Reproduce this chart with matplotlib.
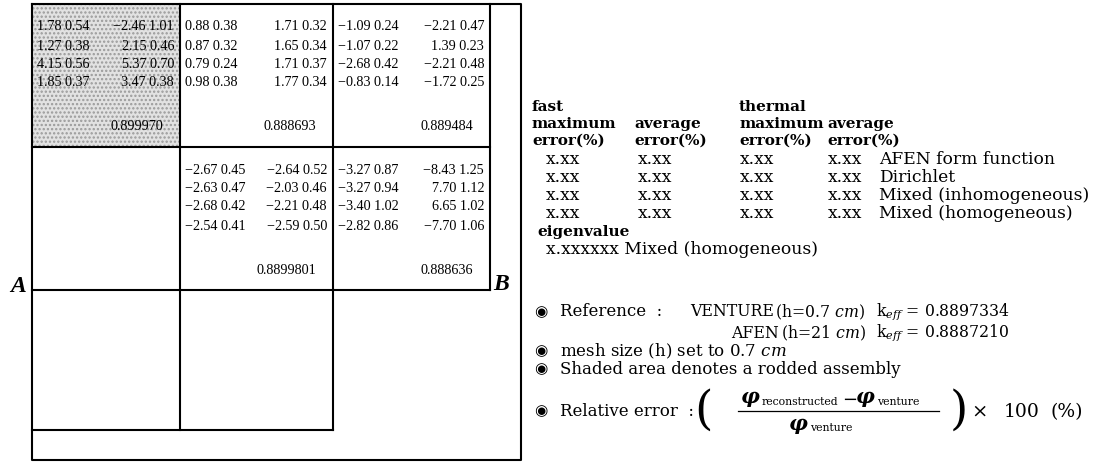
import matplotlib
matplotlib.use("Agg")
import matplotlib.pyplot as plt
from matplotlib.patches import Rectangle

plt.rcParams['font.family'] = ['Liberation Serif', 'DejaVu Sans']
plt.rcParams['mathtext.fontset'] = 'dejavuserif'
plt.rcParams['hatch.linewidth'] = 1.1

# flux errors (%) per assembly: fast max, fast avg, thermal max, thermal avg
# rows = AFEN form function, Dirichlet, Mixed (inhomogeneous), Mixed (homogeneous)
a11_fast_max = [1.78, 1.27, 4.15, 1.85]
a11_fast_avg = [0.54, 0.38, 0.56, 0.37]
a11_th_max = [-2.46, 2.15, 5.37, 3.47]
a11_th_avg = [1.01, 0.46, 0.70, 0.38]
a11_eig = "0.899970"

a12_fast_max = [0.88, 0.87, 0.79, 0.98]
a12_fast_avg = [0.38, 0.32, 0.24, 0.38]
a12_th_max = [1.71, 1.65, 1.71, 1.77]
a12_th_avg = [0.32, 0.34, 0.37, 0.34]
a12_eig = "0.888693"

a13_fast_max = [-1.09, -1.07, -2.68, -0.83]
a13_fast_avg = [0.24, 0.22, 0.42, 0.14]
a13_th_max = [-2.21, 1.39, -2.21, -1.72]
a13_th_avg = [0.47, 0.23, 0.48, 0.25]
a13_eig = "0.889484"

a22_fast_max = [-2.67, -2.63, -2.68, -2.54]
a22_fast_avg = [0.45, 0.47, 0.42, 0.41]
a22_th_max = [-2.64, -2.03, -2.21, -2.59]
a22_th_avg = [0.52, 0.46, 0.48, 0.50]
a22_eig = "0.8899801"

a23_fast_max = [-3.27, -3.27, -3.40, -2.82]
a23_fast_avg = [0.87, 0.94, 1.02, 0.86]
a23_th_max = [-8.43, 7.70, 6.65, -7.70]
a23_th_avg = [1.25, 1.12, 1.02, 1.06]
a23_eig = "0.888636"

methods = ["AFEN form function", "Dirichlet", "Mixed (inhomogeneous)", "Mixed (homogeneous)"]

# layout (pixel coordinates)
xs = [32, 180, 333, 490]
ys = [4, 147, 290, 430]
x_out, y_out = 521, 460

fig = plt.figure(figsize=(10.95, 4.63), dpi=100)
ax = fig.add_axes([0, 0, 1, 1])
ax.set_xlim(0, 1095)
ax.set_ylim(463, 0)
ax.axis('off')

# rodded assembly shading
ax.add_patch(Rectangle((xs[0], ys[0]), xs[1] - xs[0], ys[1] - ys[0],
                       facecolor='#e2e2e2', edgecolor='#9a9a9a', hatch='....', lw=0))

k = dict(color='black', lw=1.5, solid_capstyle='projecting')
# outer frame
ax.plot([xs[0], x_out, x_out, xs[0], xs[0]], [ys[0], ys[0], y_out, y_out, ys[0]], **k)
# assembly grid
ax.plot([xs[3], xs[3]], [ys[0], ys[2]], **k)
ax.plot([xs[0], xs[3]], [ys[1], ys[1]], **k)
ax.plot([xs[0], xs[3]], [ys[2], ys[2]], **k)
ax.plot([xs[0], xs[2]], [ys[3], ys[3]], **k)
ax.plot([xs[1], xs[1]], [ys[0], ys[3]], **k)
ax.plot([xs[2], xs[2]], [ys[0], ys[3]], **k)

ax.text(18, 287, "A", fontsize=17, fontweight='bold', style='italic', ha='center', va='center')
ax.text(501, 284, "B", fontsize=17, fontweight='bold', style='italic', ha='center', va='center')


def num(v):
    return f"{v:.2f}".replace("-", "\u2212")


cells = [
    (0, 0, a11_fast_max, a11_fast_avg, a11_th_max, a11_th_avg, a11_eig),
    (0, 1, a12_fast_max, a12_fast_avg, a12_th_max, a12_th_avg, a12_eig),
    (0, 2, a13_fast_max, a13_fast_avg, a13_th_max, a13_th_avg, a13_eig),
    (1, 1, a22_fast_max, a22_fast_avg, a22_th_max, a22_th_avg, a22_eig),
    (1, 2, a23_fast_max, a23_fast_avg, a23_th_max, a23_th_avg, a23_eig),
]
row_off = [23, 42, 60, 79]
fs = 10.2
for r, c, fm, fa, tm, ta, eig in cells:
    x0, x1, y0 = xs[c], xs[c + 1], ys[r]
    for i in range(4):
        ax.text(x0 + 5, y0 + row_off[i], f"{num(fm[i])} {num(fa[i])}", fontsize=fs, ha='left', va='center')
        ax.text(x1 - 6, y0 + row_off[i], f"{num(tm[i])} {num(ta[i])}", fontsize=fs, ha='right', va='center')
    ax.text(x1 - 17, y0 + 123, eig, fontsize=fs, ha='right', va='center')

# legend block on the right
serif = 'DejaVu Serif'
bold = dict(fontsize=11, fontweight='bold', family=serif, va='center', ha='left')
hx = [532, 634, 739, 827]
ax.text(hx[0], 107, "fast", **bold)
ax.text(hx[2], 107, "thermal", **bold)
for i, x in enumerate(hx):
    ax.text(x, 124, "maximum" if i % 2 == 0 else "average", **bold)
    ax.text(x, 141, "error(%)", **bold)

tfs = 12.3
body = dict(fontsize=tfs, family=serif, va='center', ha='left')
row_y = [160, 178, 196, 214]
for y, m in zip(row_y, methods):
    for x in [546, 638, 740, 828]:
        ax.text(x, y, "x.xx", **body)
    ax.text(879, y, m, **body)
ax.text(537, 232, "eigenvalue", **bold)
ax.text(546, 250, "x.xxxxxx Mixed (homogeneous)", **body)

bullet = dict(fontsize=11, family='DejaVu Sans', va='center', ha='center')
low = dict(fontsize=12, family=serif, va='center', ha='left')
ref = dict(fontsize=11.3, family=serif, va='center', ha='left')
ax.text(541, 312, "\u25c9", **bullet)
ax.text(560, 312, "Reference  :", **low)
ax.text(690, 312, "VENTURE", **ref)
ax.text(775, 312, r"(h=0.7 $\mathit{cm}$)", **ref)
ax.text(876, 312, r"k$_{\mathit{eff}}$ = 0.8897334", **ref)
ax.text(731, 333, "AFEN", **ref)
ax.text(781, 333, r"(h=21 $\mathit{cm}$)", **ref)
ax.text(876, 333, r"k$_{\mathit{eff}}$ = 0.8887210", **ref)
ax.text(541, 351, "\u25c9", **bullet)
ax.text(560, 351, r"mesh size (h) set to 0.7 $\mathit{cm}$", **low)
ax.text(541, 369, "\u25c9", **bullet)
ax.text(560, 369, "Shaded area denotes a rodded assembly", **low)
ax.text(541, 411, "\u25c9", **bullet)
ax.text(560, 411, "Relative error  :", **low)

ax.text(703, 411, "(", fontsize=34, family=serif, va='center', ha='center')
ax.text(959, 411, ")", fontsize=34, family=serif, va='center', ha='center')
phi = dict(fontsize=15, family=serif, style='italic', fontweight='bold', va='center', ha='center')
sub = dict(fontsize=7.8, family=serif, va='center', ha='left')
ax.text(750, 397, "\u03c6", **phi)
ax.text(762, 402, "reconstructed", **sub)
ax.text(850, 400, "\u2212", fontsize=13, family=serif, va='center', ha='center')
ax.text(865, 397, "\u03c6", **phi)
ax.text(877, 402, "venture", **sub)
ax.plot([738, 939], [411, 411], color='black', lw=0.9)
ax.text(798, 424, "\u03c6", **phi)
ax.text(810, 428, "venture", **sub)
ax.text(979, 412, "\u00d7", fontsize=14, family=serif, va='center', ha='center')
ax.text(1004, 412, "100", fontsize=13.5, family=serif, va='center', ha='left')
ax.text(1051, 412, "(%)", fontsize=13.5, family=serif, va='center', ha='left')

fig.savefig("out.png", dpi=100)
